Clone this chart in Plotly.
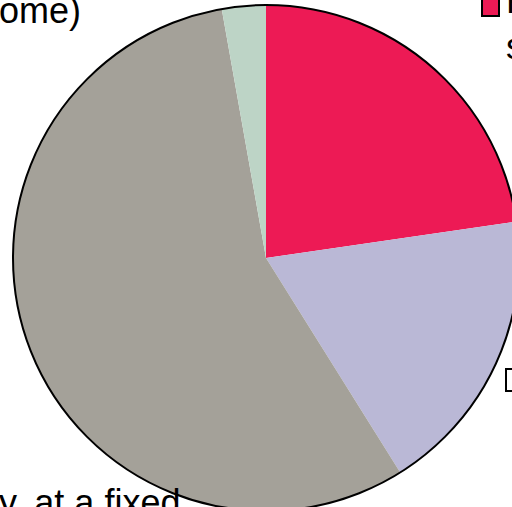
import plotly.graph_objects as go

# Shares of the four components, clockwise from 12 o'clock
labels = ["A", "B", "C", "D"]
values = [22.7, 18.4, 56.1, 2.8]
colors = ["#ED1A55", "#BAB8D6", "#A4A199", "#BDD4C6"]

W, H = 530, 520
# pie box in pixels (left, top, size)
box_l, box_t, box_s = 13, 5, 506
dom_x = [box_l / W, (box_l + box_s) / W]
dom_y = [(H - box_t - box_s) / H, (H - box_t) / H]

fig = go.Figure()
fig.add_trace(go.Pie(
    labels=labels, values=values, sort=False, direction="clockwise", rotation=0,
    marker=dict(colors=colors, line=dict(width=0)),
    textinfo="none", hoverinfo="label+percent", domain=dict(x=dom_x, y=dom_y),
    showlegend=False,
))
# outer rim
fig.add_trace(go.Pie(
    labels=["rim"], values=[1], sort=False,
    marker=dict(colors=["rgba(0,0,0,0)"], line=dict(color="black", width=2)),
    textinfo="none", hoverinfo="skip", domain=dict(x=dom_x, y=dom_y),
    showlegend=False,
))

font = dict(family="Liberation Sans, Arial", size=36, color="black")


def px(x):
    return x / W


def py(y):
    return 1 - y / H


fig.add_annotation(text="ome)", x=px(-3), y=py(-12), xref="paper", yref="paper",
                   xanchor="left", yanchor="top", showarrow=False, font=font)
fig.add_annotation(text="y, at a fixed", x=px(-3), y=py(480), xref="paper", yref="paper",
                   xanchor="left", yanchor="top", showarrow=False, font=font)
fig.add_annotation(text="P", x=px(504), y=py(-22), xref="paper", yref="paper",
                   xanchor="left", yanchor="top", showarrow=False, font=font)
fig.add_annotation(text="s", x=px(504), y=py(24), xref="paper", yref="paper",
                   xanchor="left", yanchor="top", showarrow=False, font=font)

# legend keys
fig.add_shape(type="rect", xref="paper", yref="paper",
              x0=px(482), x1=px(499), y0=py(16), y1=py(-2),
              fillcolor="#ED1A55", line=dict(color="black", width=2))
fig.add_shape(type="rect", xref="paper", yref="paper",
              x0=px(506), x1=px(526), y0=py(391), y1=py(369),
              fillcolor="white", line=dict(color="black", width=2))

fig.update_layout(width=W, height=H, margin=dict(l=0, r=0, t=0, b=0),
                  paper_bgcolor="white", plot_bgcolor="white")

fig.write_html("out.html",
               post_script="document.documentElement.style.overflow='hidden';document.body.style.overflow='hidden';")
